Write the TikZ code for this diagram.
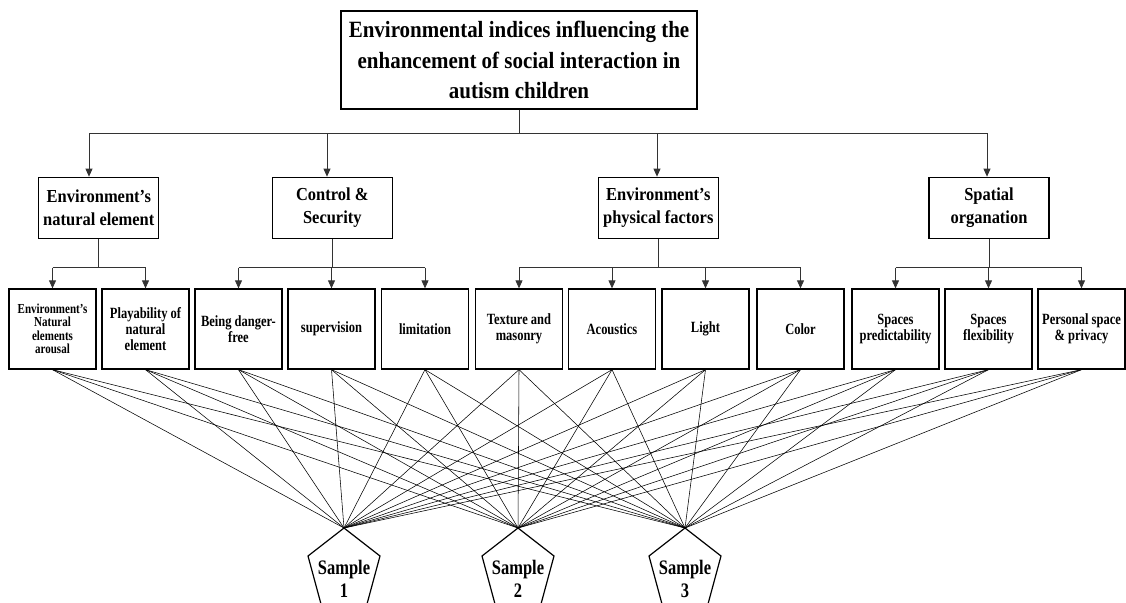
\documentclass[tikz,border=0pt]{standalone}
\usepackage{fontspec}
\setmainfont{Liberation Serif}
\newfontfamily\condA{Liberation Serif}[FakeStretch=0.9]
\newfontfamily\condB{Liberation Serif}[FakeStretch=0.8]
\usetikzlibrary{arrows.meta}
\begin{document}
\begin{tikzpicture}[x=1pt,y=-1pt,
  box/.style={draw,line width=1.3pt,align=center,inner sep=0pt},
  topbox/.style={box,minimum width=356pt,minimum height=98pt,font=\condA\fontsize{23.3}{30.5}\selectfont\bfseries},
  catbox/.style={box,minimum width=120pt,minimum height=61pt,font=\condA\fontsize{18.3}{23.3}\selectfont\bfseries},
  leafbox/.style={box,minimum width=87pt,minimum height=80pt,font=\condB\fontsize{15.6}{16.2}\selectfont\bfseries},
  conn/.style={line width=0.8pt,draw=black!80},
  arr/.style={conn,-{Triangle[length=8pt,width=7pt]}},
  cross/.style={line width=0.55pt},
  sampleshape/.style={line width=1.2pt},
  sampletext/.style={align=center,inner sep=0pt,font=\condB\fontsize{20.6}{23}\selectfont\bfseries}]
\useasboundingbox (0,0) rectangle (1126,602);
\clip (0,0) rectangle (1126,602);

% top
\node[topbox] (top) at (519,60) {Environmental indices influencing the\\enhancement of social interaction in\\autism children};

% categories
\node[catbox] (b1) at (98.8,207.8) {Environment’s\\natural element};
\node[catbox] (b2) at (332.3,207.8) {Control \&\\Security};
\node[catbox] (b3) at (658.3,207.8) {Environment’s\\physical factors};
\node[catbox] (b4) at (989,207.8) {Spatial\\organation};

% leaves
\node[leafbox,font=\condB\fontsize{13.75}{13.5}\selectfont\bfseries] (c1) at (52.5,329) {Environment’s\\Natural\\elements\\arousal};
\node[leafbox] (c2) at (145.5,329) {Playability of\\natural\\element};
\node[leafbox] (c3) at (238.5,329) {Being danger-\\free};
\node[leafbox] (c4) at (331.5,329) {supervision};
\node[leafbox] (c5) at (425,329) {limitation};
\node[leafbox] (c6) at (519,329) {Texture and\\masonry};
\node[leafbox] (c7) at (612,329) {Acoustics};
\node[leafbox] (c8) at (705.5,329) {Light};
\node[leafbox] (c9) at (800.5,329) {Color};
\node[leafbox] (c10) at (895.5,329) {Spaces\\predictability};
\node[leafbox] (c11) at (988.5,329) {Spaces\\flexibility};
\node[leafbox] (c12) at (1081.5,329) {Personal space\\\& privacy};

% top tree
\coordinate (hL) at (89,133);
\coordinate (hR) at (987,133);
\coordinate (h2) at (327,133);
\coordinate (h3) at (657,133);
\draw[conn] (top.south) -- (top.south |- hL);
\draw[conn] (hL) -- (hR);
\draw[arr] (hL) -- (hL |- b1.north);
\draw[arr] (h2) -- (h2 |- b2.north);
\draw[arr] (h3) -- (h3 |- b3.north);
\draw[arr] (hR) -- (hR |- b4.north);

% branch level
\coordinate (br) at (0,267.5);
% b1
\draw[conn] (b1.south) -- (b1.south |- br);
\draw[conn] (c1.north |- br) -- (c2.north |- br);
\draw[arr] (c1.north |- br) -- (c1.north);
\draw[arr] (c2.north |- br) -- (c2.north);
% b2
\draw[conn] (b2.south) -- (b2.south |- br);
\draw[conn] (c3.north |- br) -- (c5.north |- br);
\foreach \i in {3,4,5} {\draw[arr] (c\i.north |- br) -- (c\i.north);}
% b3
\draw[conn] (b3.south) -- (b3.south |- br);
\draw[conn] (c6.north |- br) -- (c9.north |- br);
\foreach \i in {6,7,8,9} {\draw[arr] (c\i.north |- br) -- (c\i.north);}
% b4
\draw[conn] (b4.south) -- (b4.south |- br);
\draw[conn] (c10.north |- br) -- (c12.north |- br);
\foreach \i in {10,11,12} {\draw[arr] (c\i.north |- br) -- (c\i.north);}

% samples
\coordinate (p1) at (344,528);
\coordinate (p2) at (518,528);
\coordinate (p3) at (685,528);
\foreach \j in {1,2,3} {
  \draw[sampleshape] (p\j) -- ++(36,28) -- ++(-13,48) -- ++(-46,0) -- ++(-13,-48) -- cycle;
}
\node[sampletext] (s1) at (344,579) {Sample\\1};
\node[sampletext] (s2) at (518,579) {Sample\\2};
\node[sampletext] (s3) at (685,579) {Sample\\3};

% cross connections
\foreach \i in {1,...,12} {
  \foreach \j in {1,2,3} {
    \draw[cross] (c\i.south) -- (p\j);
  }
}
\end{tikzpicture}
\end{document}
